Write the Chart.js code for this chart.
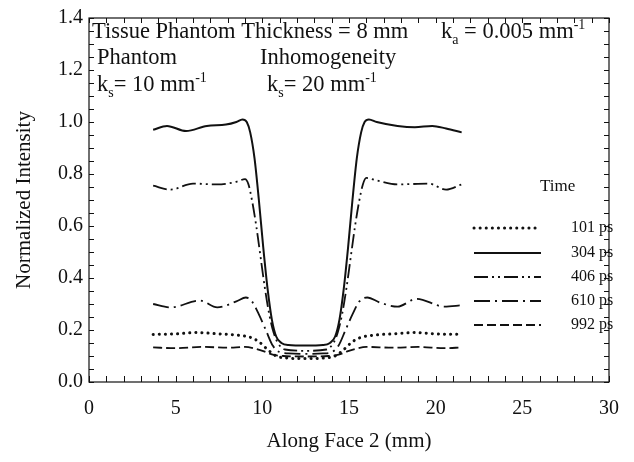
<!DOCTYPE html>
<html>
<head>
<meta charset="utf-8">
<script src="https://cdn.jsdelivr.net/npm/chart.js@4.4.1/dist/chart.umd.min.js"></script>
<style>
  html, body { margin: 0; padding: 0; background: #fff; }
  #wrap { width: 634px; height: 462px; }
</style>
</head>
<body>
<div id="wrap"><canvas id="c"></canvas></div>
<script>
// time labels for the legend
const timeLabels = ['101 ps', '304 ps', '406 ps', '610 ps', '992 ps'];

// position along face 2 (mm) and normalized intensity, one pair per curve
const x101 = [3.7, 5.0, 6.2, 7.5, 8.6, 9.3, 9.8, 10.3, 10.8, 11.5, 12.5, 13.5, 14.2, 14.7, 15.2, 15.7, 16.4, 17.5, 18.8, 20.0, 21.5];
const y101 = [0.183, 0.185, 0.19, 0.185, 0.18, 0.172, 0.155, 0.125, 0.1, 0.092, 0.09, 0.092, 0.1, 0.125, 0.155, 0.172, 0.18, 0.185, 0.19, 0.185, 0.183];

const x304 = [3.7, 4.5, 5.6, 6.8, 7.9, 8.5, 8.85, 9.1, 9.3, 9.55, 9.8, 10.05, 10.3, 10.55, 10.8, 11.1, 11.5, 12.5, 13.5, 13.9, 14.2, 14.45, 14.7, 14.95, 15.2, 15.45, 15.7, 15.9, 16.15, 16.6, 17.8, 18.8, 19.8, 20.6, 21.5];
const y304 = [0.97, 0.985, 0.965, 0.985, 0.99, 1.0, 1.01, 1.0, 0.96, 0.86, 0.7, 0.52, 0.36, 0.24, 0.175, 0.15, 0.142, 0.14, 0.142, 0.15, 0.175, 0.24, 0.36, 0.52, 0.7, 0.86, 0.96, 1.0, 1.01, 1.0, 0.985, 0.98, 0.985, 0.975, 0.96];

const x406 = [3.7, 4.7, 6.0, 7.4, 8.5, 9.0, 9.2, 9.4, 9.65, 9.9, 10.15, 10.4, 10.65, 10.9, 11.3, 12.5, 13.7, 14.1, 14.35, 14.6, 14.85, 15.1, 15.35, 15.6, 15.8, 16.0, 16.6, 17.8, 19.6, 20.6, 21.5];
const y406 = [0.755, 0.74, 0.763, 0.76, 0.77, 0.78, 0.76, 0.7, 0.6, 0.48, 0.36, 0.26, 0.19, 0.15, 0.125, 0.12, 0.125, 0.15, 0.19, 0.26, 0.36, 0.48, 0.6, 0.7, 0.76, 0.785, 0.775, 0.76, 0.763, 0.74, 0.76];

const x610 = [3.7, 4.7, 6.4, 7.4, 8.5, 9.05, 9.4, 9.8, 10.2, 10.6, 11.0, 11.5, 12.5, 13.5, 14.0, 14.4, 14.8, 15.2, 15.6, 16.05, 16.8, 17.8, 18.9, 20.5, 21.5];
const y610 = [0.30, 0.287, 0.313, 0.287, 0.31, 0.325, 0.31, 0.26, 0.2, 0.14, 0.115, 0.11, 0.108, 0.11, 0.115, 0.14, 0.2, 0.26, 0.31, 0.325, 0.305, 0.29, 0.32, 0.29, 0.295];

const x992 = [3.7, 5.0, 6.5, 8.0, 9.0, 9.6, 10.1, 10.6, 11.2, 12.5, 13.8, 14.4, 14.9, 15.4, 16.0, 17.5, 19.0, 20.5, 21.5];
const y992 = [0.133, 0.13, 0.135, 0.132, 0.135, 0.128, 0.118, 0.105, 0.1, 0.098, 0.1, 0.105, 0.118, 0.128, 0.135, 0.132, 0.135, 0.13, 0.133];

const xTicks = [0, 5, 10, 15, 20, 25, 30];
const yTicks = [0, 0.2, 0.4, 0.6, 0.8, 1.0, 1.2, 1.4];

const ink = '#111';
const serif = '"Liberation Serif", "DejaVu Serif", serif';

function pts(xs, ys) {
  return xs.map((x, i) => ({ x: x, y: ys[i] }));
}

function series(label, xs, ys, dash, width, cap) {
  return {
    label: label,
    data: pts(xs, ys),
    borderColor: ink,
    borderWidth: width,
    borderDash: dash,
    borderCapStyle: cap,
    pointRadius: 0,
    fill: false,
    cubicInterpolationMode: 'monotone'
  };
}

// box with inward tick marks
const framePlugin = {
  id: 'frame',
  afterDraw(chart) {
    const { ctx, chartArea: a, scales } = chart;
    ctx.save();
    ctx.strokeStyle = ink;
    ctx.lineWidth = 1.2;
    ctx.strokeRect(a.left, a.top, a.right - a.left, a.bottom - a.top);
    ctx.lineWidth = 1;
    ctx.beginPath();
    for (let v = 0; v <= 30; v++) {
      const px = Math.round(scales.x.getPixelForValue(v)) + 0.5;
      ctx.moveTo(px, a.bottom); ctx.lineTo(px, a.bottom - 6);
      ctx.moveTo(px, a.top); ctx.lineTo(px, a.top + 5);
    }
    for (let k = 0; k <= 28; k++) {
      const py = Math.round(scales.y.getPixelForValue(k * 0.05)) + 0.5;
      ctx.moveTo(a.left, py); ctx.lineTo(a.left + 5, py);
      ctx.moveTo(a.right, py); ctx.lineTo(a.right - 5, py);
    }
    ctx.stroke();
    ctx.restore();
  }
};

// text pieces: [text, 'n' | 'sub' | 'sup']
function drawRich(ctx, parts, x, y, size) {
  let cx = x;
  parts.forEach(([t, mode]) => {
    const s = mode === 'n' ? size : Math.round(size * 0.62);
    const dy = mode === 'sub' ? size * 0.25 : mode === 'sup' ? -size * 0.42 : 0;
    ctx.font = s + 'px ' + serif;
    ctx.fillText(t, cx, y + dy);
    cx += ctx.measureText(t).width;
  });
}

const notesPlugin = {
  id: 'notes',
  afterDraw(chart) {
    const ctx = chart.ctx;
    ctx.save();
    ctx.fillStyle = ink;
    ctx.textBaseline = 'alphabetic';
    ctx.textAlign = 'left';
    const fs = 22.5;
    drawRich(ctx, [['Tissue Phantom Thickness = 8 mm', 'n']], 92, 38, fs);
    drawRich(ctx, [['k', 'n'], ['a', 'sub'], [' = 0.005 mm', 'n'], ['-1', 'sup']], 441, 38, fs);
    drawRich(ctx, [['Phantom', 'n']], 97, 64, fs);
    drawRich(ctx, [['Inhomogeneity', 'n']], 260, 64, fs);
    drawRich(ctx, [['k', 'n'], ['s', 'sub'], ['= 10 mm', 'n'], ['-1', 'sup']], 97, 91, fs);
    drawRich(ctx, [['k', 'n'], ['s', 'sub'], ['= 20 mm', 'n'], ['-1', 'sup']], 267, 91, fs);

    // legend
    ctx.font = '17px ' + serif;
    ctx.textBaseline = 'middle';
    ctx.fillText('Time', 540, 187);
    ctx.font = '16px ' + serif;
    const rows = [228, 253, 277, 301, 325];
    chart.data.datasets.forEach((ds, i) => {
      const y = rows[i];
      ctx.save();
      ctx.strokeStyle = ds.borderColor;
      ctx.lineWidth = ds.borderWidth;
      ctx.lineCap = ds.borderCapStyle;
      ctx.setLineDash(ds.borderDash);
      ctx.beginPath();
      ctx.moveTo(474, y);
      ctx.lineTo(541, y);
      ctx.stroke();
      ctx.restore();
      ctx.fillText(ds.label, 571, y);
    });
    ctx.restore();
  }
};

new Chart(document.getElementById('c').getContext('2d'), {
  type: 'line',
  data: {
    datasets: [
      series(timeLabels[0], x101, y101, [0.1, 6], 3, 'round'),
      series(timeLabels[1], x304, y304, [], 2, 'butt'),
      series(timeLabels[2], x406, y406, [14, 4, 2, 4, 2, 4], 1.8, 'butt'),
      series(timeLabels[3], x610, y610, [16, 5, 2, 5], 1.8, 'butt'),
      series(timeLabels[4], x992, y992, [9, 4], 1.8, 'butt')
    ]
  },
  options: {
    responsive: true,
    maintainAspectRatio: false,
    animation: false,
    devicePixelRatio: 1,
    layout: { padding: { top: 15, right: 22, left: 0, bottom: 0 } },
    plugins: { legend: { display: false }, tooltip: { enabled: false } },
    scales: {
      x: {
        type: 'linear',
        min: 0,
        max: 30,
        afterBuildTicks(scale) { scale.ticks = xTicks.map(v => ({ value: v })); },
        afterFit(scale) { scale.height = 80; },
        grid: { display: false, drawTicks: false },
        border: { display: false },
        ticks: { color: ink, font: { family: serif, size: 20 }, padding: 15, maxRotation: 0 },
        title: { display: true, text: 'Along Face 2 (mm)', color: ink, font: { family: serif, size: 21 }, padding: { top: 0, bottom: 8 } }
      },
      y: {
        min: 0,
        max: 1.4,
        afterBuildTicks(scale) { scale.ticks = yTicks.map(v => ({ value: v })); },
        afterFit(scale) { scale.width = 89; },
        grid: { display: false, drawTicks: false },
        border: { display: false },
        ticks: { color: ink, font: { family: serif, size: 20 }, padding: 6, callback: v => v.toFixed(1) },
        title: { display: true, text: 'Normalized Intensity', color: ink, font: { family: serif, size: 21 }, padding: { top: 12, bottom: 0 } }
      }
    }
  },
  plugins: [framePlugin, notesPlugin]
});
</script>
</body>
</html>
